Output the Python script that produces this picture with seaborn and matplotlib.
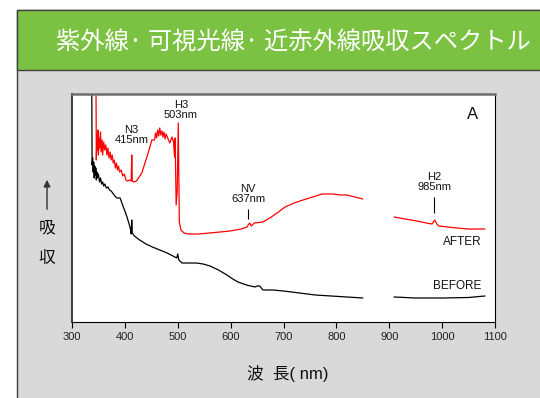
# UV / visible / near-IR absorption spectra, before and after treatment
import matplotlib
matplotlib.use("Agg")
import matplotlib.pyplot as plt
from matplotlib.patches import Rectangle, FancyArrowPatch
import seaborn as sns
import pandas as pd

sns.set_style("white")
plt.rcParams['font.family'] = ['Liberation Sans', 'Noto Sans CJK JP', 'DejaVu Sans']

# --- data (wavelength nm, absorbance arb. units) ---
after_nm_1 = [345, 346, 347, 348, 349, 350, 351, 352, 354, 355, 357, 358, 360, 362, 364, 366,
              368, 370, 372, 374, 376, 378, 380, 382, 384, 386, 388, 390, 393, 396, 399, 402,
              405, 409, 412, 413, 414, 417, 422, 432, 444, 451, 456, 458, 460, 462, 464, 466,
              468, 470, 472, 474, 476, 478, 481, 485, 489, 492, 494, 495, 497, 499, 501, 503,
              506, 512, 520, 540, 560, 580, 599, 620, 631, 633, 636, 639, 645, 661, 674, 688,
              703, 720, 737, 755, 773, 793, 808, 820, 835, 850]
after_abs_1 = [2.82, 1.62, 1.87, 1.72, 1.92, 1.67, 1.84, 1.74, 1.90, 1.70, 1.82, 1.67, 1.80, 1.72, 1.77, 1.67,
               1.74, 1.64, 1.70, 1.62, 1.67, 1.59, 1.62, 1.54, 1.59, 1.52, 1.56, 1.50, 1.52, 1.46, 1.48, 1.42,
               1.41, 1.42, 1.41, 1.67, 1.41, 1.40, 1.41, 1.49, 1.69, 1.82, 1.82, 1.89, 1.84, 1.92, 1.86, 1.94,
               1.87, 1.91, 1.85, 1.90, 1.83, 1.88, 1.84, 1.79, 1.85, 1.80, 1.65, 1.84, 1.17, 1.32, 1.99, 1.00,
               0.92, 0.89, 0.88, 0.88, 0.89, 0.90, 0.91, 0.93, 0.95, 0.97, 0.99, 0.96, 0.99, 1.00, 1.04, 1.09,
               1.15, 1.19, 1.22, 1.25, 1.28, 1.28, 1.27, 1.27, 1.25, 1.23]
after_nm_2 = [909, 930, 952, 970, 981, 986, 990, 994, 1010, 1028, 1050, 1081]
after_abs_2 = [1.05, 1.03, 1.01, 0.99, 0.98, 1.02, 0.98, 0.96, 0.95, 0.94, 0.93, 0.93]

before_nm_1 = [337, 338, 339, 340, 341, 342, 343, 344, 345, 346, 347, 348, 350, 352, 354, 356,
               358, 360, 362, 365, 368, 371, 374, 377, 381, 385, 391, 395, 400, 404, 408, 411,
               412, 413, 414, 418, 428, 440, 452, 466, 480, 491, 498, 500, 502, 508, 520, 535,
               548, 561, 577, 593, 604, 614, 630, 646, 650, 655, 661, 680, 700, 730, 760, 790,
               820, 850]
before_abs_1 = [2.82, 1.57, 1.64, 1.50, 1.60, 1.44, 1.56, 1.47, 1.54, 1.42, 1.50, 1.44, 1.48, 1.40, 1.44, 1.38,
                1.40, 1.36, 1.38, 1.34, 1.35, 1.32, 1.31, 1.29, 1.26, 1.24, 1.24, 1.18, 1.11, 1.05, 0.98, 0.92,
                0.88, 1.02, 0.89, 0.86, 0.82, 0.78, 0.75, 0.72, 0.69, 0.66, 0.64, 0.68, 0.62, 0.59, 0.59, 0.59,
                0.58, 0.56, 0.52, 0.47, 0.43, 0.40, 0.37, 0.35, 0.36, 0.36, 0.32, 0.32, 0.31, 0.29, 0.27, 0.26,
                0.25, 0.24]
before_nm_2 = [909, 950, 1000, 1050, 1081]
before_abs_2 = [0.25, 0.24, 0.24, 0.245, 0.26]

peak_labels = ["N3\n415nm", "H3\n503nm", "NV\n637nm", "H2\n985nm"]
peak_label_x = [413, 506, 633, 986]
peak_label_y = [1.87, 2.12, 1.28, 1.40]

title = "紫外線· 可視光線· 近赤外線吸収スペクトル"
xlabel = "波  長( nm)"

# build one long table; a separate unit for each segment leaves the 850-909 nm gap open
parts = []
for name, seg, xs, ys in [("AFTER", "a1", after_nm_1, after_abs_1),
                          ("AFTER", "a2", after_nm_2, after_abs_2),
                          ("BEFORE", "b1", before_nm_1, before_abs_1),
                          ("BEFORE", "b2", before_nm_2, before_abs_2)]:
    parts.append(pd.DataFrame({"nm": xs, "abs": ys, "sample": name, "segment": seg}))
df = pd.concat(parts, ignore_index=True)

W, H = 540, 398
fig = plt.figure(figsize=(W / 100, H / 100), dpi=100, facecolor="white")

# gray panel and green title banner (behind the axes)
fig.patches.append(Rectangle((17 / W, -0.01), (W - 17) / W + 0.01, (H - 10) / H + 0.01,
                             transform=fig.transFigure, facecolor="#D9D9D9",
                             edgecolor="#404040", lw=1.0, zorder=-2))
fig.patches.append(Rectangle((17 / W, (H - 70) / H), (W - 17) / W + 0.01, 60 / H,
                             transform=fig.transFigure, facecolor="#7CC242",
                             edgecolor="#404040", lw=1.0, zorder=-1))
fig.text(293 / W, 1 - 43 / H, title, color="white", fontsize=17.5,
         ha="center", va="center", family=['Noto Sans CJK JP', 'DejaVu Sans'])

ax = fig.add_axes([72 / W, 1 - 322 / H, (495 - 72) / W, (322 - 94) / H])
ax.set_facecolor("white")

sns.lineplot(data=df, x="nm", y="abs", hue="sample", units="segment", estimator=None,
             palette={"AFTER": "#FF0000", "BEFORE": "black"}, legend=False, lw=0.9, ax=ax)

ax.set_xlim(300, 1100)
ax.set_ylim(0, 2.28)
ax.set_xticks(range(300, 1101, 100))
ax.set_yticks([])
ax.set_xlabel("")
ax.set_ylabel("")
ax.tick_params(axis="x", direction="out", length=4, width=0.8, color="black",
               labelsize=8, labelcolor="#222222", pad=3, bottom=True)

ax.spines["top"].set_color("#6E6E6E")
ax.spines["top"].set_linewidth(1.8)
ax.spines["left"].set_color("#444444")
ax.spines["left"].set_linewidth(1.5)
ax.spines["right"].set_color("black")
ax.spines["right"].set_linewidth(0.8)
ax.spines["bottom"].set_color("black")
ax.spines["bottom"].set_linewidth(0.8)

# peak annotations
for lab, px, py in zip(peak_labels, peak_label_x, peak_label_y):
    ax.text(px, py, lab, ha="center", va="center", fontsize=8, linespacing=1.1, color="#111111")
ax.vlines([633, 985], [1.03, 1.09], [1.13, 1.25], colors="black", lw=0.8)

ax.text(1075, 0.80, "AFTER", ha="right", va="center", fontsize=8.5, color="#111111")
ax.text(1075, 0.36, "BEFORE", ha="right", va="center", fontsize=8.5, color="#111111")
ax.text(1058, 2.07, "A", ha="center", va="center", fontsize=12, color="#111111")

# axis labels
fig.text(288 / W, 1 - 374 / H, xlabel, fontsize=12, ha="center", va="center", color="#111111")
fig.text(47 / W, 1 - 228 / H, "吸", fontsize=12, ha="center", va="center", color="#111111")
fig.text(47 / W, 1 - 258 / H, "収", fontsize=12, ha="center", va="center", color="#111111")
fig.add_artist(FancyArrowPatch((47 / W, 1 - 212 / H), (47 / W, 1 - 177 / H),
                               transform=fig.transFigure, arrowstyle="-|>",
                               mutation_scale=10, color="#333333", lw=1.0))

fig.savefig("out.png", dpi=100, facecolor="white")
